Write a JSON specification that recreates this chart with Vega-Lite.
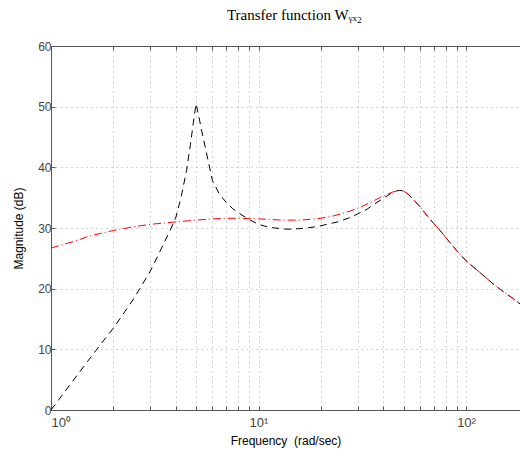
{
  "$schema": "https://vega.github.io/schema/vega-lite/v6.json",
  "autosize": {"type": "none"},
  "padding": {"left": 51, "top": 46, "right": 0, "bottom": 43},
  "width": 469,
  "height": 364,
  "background": "white",
  "title": {
    "text": "Transfer function Wᵧₓ₂",
    "font": "Liberation Serif",
    "fontSize": 15,
    "fontWeight": "normal",
    "color": "#000000",
    "anchor": "middle",
    "dx": 9,
    "offset": 17
  },
  "datasets": {
    "black": [
      {"x": 1, "y": 0}, {"x": 1.25, "y": 4.4}, {"x": 1.5, "y": 8.0}, {"x": 1.75, "y": 11.0},
      {"x": 2, "y": 13.5}, {"x": 2.5, "y": 18.3}, {"x": 3, "y": 22.8}, {"x": 3.25, "y": 25.2},
      {"x": 3.5, "y": 27.5}, {"x": 3.75, "y": 29.6}, {"x": 4, "y": 31.8}, {"x": 4.25, "y": 35.3},
      {"x": 4.5, "y": 39.5}, {"x": 4.7, "y": 43.8}, {"x": 4.85, "y": 47.3}, {"x": 5.0, "y": 50.5},
      {"x": 5.15, "y": 48.5}, {"x": 5.3, "y": 46.3}, {"x": 5.45, "y": 44.4}, {"x": 5.7, "y": 41.3},
      {"x": 6.0, "y": 37.8}, {"x": 6.5, "y": 35.5}, {"x": 7.0, "y": 34.2}, {"x": 7.5, "y": 33.2},
      {"x": 8.0, "y": 32.5}, {"x": 9.0, "y": 31.4}, {"x": 10, "y": 30.6}, {"x": 11, "y": 30.2},
      {"x": 12, "y": 30.0}, {"x": 13.8, "y": 29.8}, {"x": 16, "y": 29.9}, {"x": 19, "y": 30.2},
      {"x": 22, "y": 30.7}, {"x": 24, "y": 31.0}, {"x": 27, "y": 31.6}, {"x": 30, "y": 32.3},
      {"x": 33, "y": 33.0}, {"x": 36, "y": 33.9}, {"x": 40, "y": 34.9}, {"x": 43, "y": 35.6},
      {"x": 46, "y": 36.1}, {"x": 48, "y": 36.2}, {"x": 50, "y": 36.1}, {"x": 53, "y": 35.5},
      {"x": 56, "y": 34.6}, {"x": 60, "y": 33.5}, {"x": 65, "y": 32.0}, {"x": 70, "y": 30.7},
      {"x": 75, "y": 29.6}, {"x": 80, "y": 28.4}, {"x": 90, "y": 26.3}, {"x": 100, "y": 24.6},
      {"x": 110, "y": 23.4}, {"x": 120, "y": 22.3}, {"x": 135, "y": 20.8}, {"x": 150, "y": 19.6},
      {"x": 165, "y": 18.6}, {"x": 182, "y": 17.5}
    ],
    "red": [
      {"x": 1, "y": 26.7}, {"x": 1.35, "y": 28.0}, {"x": 1.5, "y": 28.6}, {"x": 2, "y": 29.6},
      {"x": 2.5, "y": 30.2}, {"x": 3, "y": 30.6}, {"x": 4, "y": 31.0}, {"x": 5, "y": 31.3},
      {"x": 6, "y": 31.5}, {"x": 7, "y": 31.6}, {"x": 8, "y": 31.6}, {"x": 10, "y": 31.5},
      {"x": 13, "y": 31.3}, {"x": 16, "y": 31.3}, {"x": 20, "y": 31.6}, {"x": 23, "y": 32.0},
      {"x": 26, "y": 32.5}, {"x": 30, "y": 33.2}, {"x": 35, "y": 34.3}, {"x": 40, "y": 35.3},
      {"x": 44, "y": 35.9}, {"x": 48, "y": 36.2}, {"x": 50, "y": 36.1}, {"x": 53, "y": 35.5},
      {"x": 56, "y": 34.6}, {"x": 60, "y": 33.5}, {"x": 65, "y": 32.0}, {"x": 70, "y": 30.7},
      {"x": 75, "y": 29.6}, {"x": 80, "y": 28.4}, {"x": 90, "y": 26.3}, {"x": 100, "y": 24.6},
      {"x": 110, "y": 23.4}, {"x": 120, "y": 22.3}, {"x": 135, "y": 20.8}, {"x": 150, "y": 19.6},
      {"x": 165, "y": 18.6}, {"x": 182, "y": 17.5}
    ]
  },
  "layer": [
    {
      "data": {"name": "black"},
      "mark": {"type": "line", "color": "#000000", "strokeWidth": 1, "strokeDash": [7, 5], "clip": true},
      "encoding": {
        "x": {
          "field": "x", "type": "quantitative",
          "scale": {"type": "log", "domain": [1, 182], "nice": false},
          "axis": {
            "orient": "bottom",
            "values": [1,2,3,4,5,6,7,8,9,10,20,30,40,50,60,70,80,90,100],
            "labelExpr": "datum.value == 1 ? '10⁰' : datum.value == 10 ? '10¹' : datum.value == 100 ? '10²' : ''",
            "labelOverlap": false,
            "labelPadding": 10,
            "labelFontSize": 13,
            "title": "Frequency\u00a0 (rad/sec)",
            "titlePadding": 6,
            "grid": true,
            "tickSize": -4
          }
        },
        "y": {
          "field": "y", "type": "quantitative",
          "scale": {"domain": [0, 60], "nice": false, "zero": false},
          "axis": {
            "values": [0,10,20,30,40,50,60],
            "title": "Magnitude (dB)",
            "titlePadding": 12,
            "labelPadding": 4,
            "grid": true,
            "tickSize": -4
          }
        }
      }
    },
    {
      "data": {"name": "red"},
      "mark": {"type": "line", "color": "#ff0000", "strokeWidth": 1, "strokeDash": [8, 3, 1, 3], "clip": true},
      "encoding": {
        "x": {
          "field": "x", "type": "quantitative",
          "scale": {"type": "log", "domain": [1, 182], "nice": false},
          "axis": {
            "orient": "top",
            "values": [1,2,3,4,5,6,7,8,9,10,20,30,40,50,60,70,80,90,100],
            "labels": false,
            "title": null,
            "grid": false,
            "tickSize": -4
          }
        },
        "y": {
          "field": "y", "type": "quantitative",
          "scale": {"domain": [0, 60], "nice": false, "zero": false}
        }
      }
    }
  ],
  "resolve": {"axis": {"x": "independent"}},
  "config": {
    "view": {"stroke": null},
    "axis": {
      "labelFont": "Liberation Sans",
      "labelFontSize": 12,
      "labelColor": "#444444",
      "titleFont": "Liberation Sans",
      "titleFontSize": 12,
      "titleFontWeight": "normal",
      "titleColor": "#000000",
      "domainColor": "#555555",
      "domainWidth": 1,
      "tickColor": "#555555",
      "gridColor": "#aaaaaa",
      "gridDash": [1, 4],
      "gridOpacity": 1,
      "gridWidth": 1
    }
  }
}
